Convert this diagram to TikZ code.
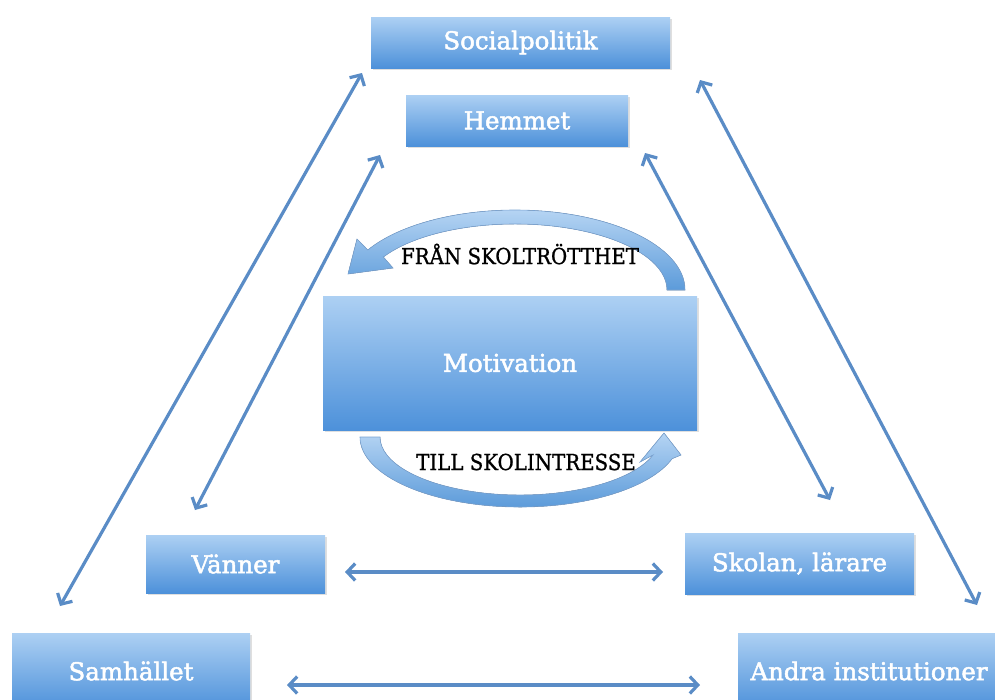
\documentclass[tikz,border=0pt]{standalone}
\usepackage{fontspec}
\setmainfont{DejaVu Serif}
\newfontfamily\boxfont{DejaVu Serif}[FakeBold=2]
\newfontfamily\lblfont{DejaVu Serif Condensed}[FakeBold=1]
\usetikzlibrary{arrows.meta,shadows,calc}
\definecolor{boxtop}{HTML}{ADD0F3}
\definecolor{boxbot}{HTML}{4D91DA}
\definecolor{arrowcol}{HTML}{5A8CC6}
\definecolor{arctop}{HTML}{B5D4F3}
\definecolor{arcbot}{HTML}{5C9BDA}
\tikzset{
  box/.style={rectangle, top color=boxtop, bottom color=boxbot, draw=none,
    text=white, inner sep=0pt, font=\boxfont\fontsize{24.5}{28}\selectfont,
    drop shadow={opacity=0.25, shadow xshift=1.5pt, shadow yshift=-2pt}},
  link/.style={draw=arrowcol, line width=3.2pt,
    {Straight Barb[length=8pt,width=17pt]}-{Straight Barb[length=8pt,width=17pt]}},
  blockarrow/.style={top color=arctop, bottom color=arcbot, draw=arrowcol!80, line width=0.6pt},
  lbl/.style={text=black, font=\lblfont\fontsize{22}{26}\selectfont, inner sep=0pt}
}
\begin{document}
\begin{tikzpicture}[x=1pt,y=1pt]
\useasboundingbox (0,0) rectangle (995,-699);
% boxes
\node[box, minimum width=299pt, minimum height=51pt] (soc) at (520.5,-42.5) {Socialpolitik};
\node[box, minimum width=222pt, minimum height=51pt] (hem) at (517,-120.5) {Hemmet};
\node[box, minimum width=374pt, minimum height=134pt] (mot) at (510,-363) {Motivation};
\node[box, minimum width=179pt, minimum height=58pt] (van) at (235.5,-564) {Vänner};
\node[box, minimum width=229pt, minimum height=61pt] (sko) at (799.5,-563.5) {Skolan, lärare};
\node[box, minimum width=238pt, minimum height=76pt] (sam) at (131,-671) {Samhället};
\node[box, minimum width=262pt, minimum height=76pt] (and) at (869,-671) {Andra institutioner};
% curved block arrows
\coordinate (ct) at (515,-290);
\fill[blockarrow] ($(ct)+(0:170pt and 80pt)$) arc[start angle=0,end angle=150,x radius=170pt,y radius=80pt]
  -- (357,-239) -- (348,-274) -- (393,-268)
  -- ($(ct)+(150:152pt and 66pt)$) arc[start angle=150,end angle=0,x radius=152pt,y radius=66pt] -- cycle;
\coordinate (cb) at (520,-437);
\fill[blockarrow] ($(cb)+(180:160pt and 70pt)$) arc[start angle=180,end angle=342,x radius=160pt,y radius=70pt]
  -- (681,-455) -- (664,-433) -- (640,-462)
  -- ($(cb)+(342:140pt and 58pt)$) arc[start angle=342,end angle=180,x radius=140pt,y radius=58pt] -- cycle;
\node[lbl] (fran) at (520,-254) {FRÅN SKOLTRÖTTHET};
\node[lbl] (till) at (526,-462) {TILL SKOLINTRESSE};
% connector ends
\coordinate (lo1) at (362,-73);  \coordinate (lo2) at (60,-606);
\coordinate (ro1) at (700,-80);  \coordinate (ro2) at (977,-605);
\coordinate (li1) at (380,-155); \coordinate (li2) at (195,-510);
\coordinate (ri1) at (645,-153); \coordinate (ri2) at (830,-500);
\coordinate (hm1) at (345,-572); \coordinate (hm2) at (663,-572);
\coordinate (hb1) at (287,-685); \coordinate (hb2) at (700,-685);
\draw[link] (lo1) -- (lo2);
\draw[link] (ro1) -- (ro2);
\draw[link] (li1) -- (li2);
\draw[link] (ri1) -- (ri2);
\draw[link] (hm1) -- (hm2);
\draw[link] (hb1) -- (hb2);
\end{tikzpicture}
\end{document}
